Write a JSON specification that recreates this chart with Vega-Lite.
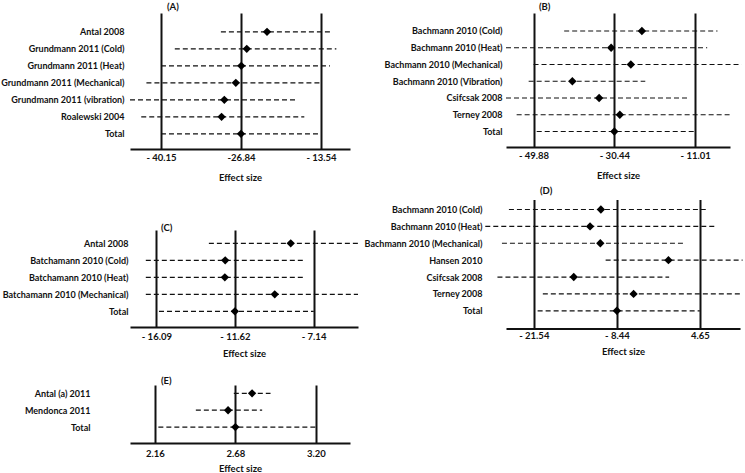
{
  "$schema": "https://vega.github.io/schema/vega-lite/v6.json",
  "padding": {"left": 0, "top": 1, "right": 0, "bottom": 0},
  "background": "white",
  "spacing": 3,
  "hconcat": [
    {
      "spacing": 17,
      "vconcat": [
        {
          "width": 220, "height": 136,
          "title": {"text": "(A)", "dx": 37, "offset": 2},
          "data": {"values": [
            {"study": "Antal 2008", "lo": -30.18, "hi": -12.05, "est": -22.51},
            {"study": "Grundmann 2011 (Cold)", "lo": -37.85, "hi": -10.98, "est": -25.88},
            {"study": "Grundmann 2011 (Heat)", "lo": -40.15, "hi": -12.05, "est": -26.79},
            {"study": "Grundmann 2011 (Mechanical)", "lo": -42.57, "hi": -13.54, "est": -27.70},
            {"study": "Grundmann 2011 (vibration)", "lo": -45.3, "hi": -17.66, "est": -29.61},
            {"study": "Roalewski 2004", "lo": -43.43, "hi": -16.31, "est": -30.07},
            {"study": "Total", "lo": -40.15, "hi": -13.54, "est": -26.84}
          ]},
          "encoding": {"y": {"field": "study", "type": "nominal", "sort": null, "scale": {"type": "point", "padding": 1.104, "align": 0.555}, "axis": {"labelPadding": 6}}},
          "layer": [
            {"mark": {"type": "rule", "strokeDash": [5, 3], "strokeWidth": 1.2, "color": "#111"},
             "encoding": {
               "x": {"field": "lo", "type": "quantitative", "scale": {"domain": [-45.3, -8.71], "zero": false, "nice": false}, "axis": {"values": [-40.15, -26.84, -13.54], "title": "Effect size", "labelExpr": "datum.value === -26.84 ? '-26.84' : '- ' + format(abs(datum.value), '.2f')", "labelPadding": 3, "titlePadding": 11}},
               "x2": {"field": "hi"}}},
            {"mark": {"type": "point", "shape": "diamond", "filled": true, "size": 70, "color": "#000", "opacity": 1},
             "encoding": {"x": {"field": "est", "type": "quantitative", "scale": {"domain": [-45.3, -8.71], "zero": false, "nice": false}, "axis": {"values": [-40.15, -26.84, -13.54], "title": "Effect size", "labelExpr": "datum.value === -26.84 ? '-26.84' : '- ' + format(abs(datum.value), '.2f')", "labelPadding": 3, "titlePadding": 11}}}}
          ]
        },
        {
          "width": 228, "height": 97,
          "title": {"text": " ", "subtitle": "(C)", "fontSize": 10, "subtitlePadding": 13.5, "dx": 31, "offset": -2},
          "data": {"values": [
            {"study": "Antal 2008", "lo": -13.10, "hi": -4.52, "est": -8.44},
            {"study": "Batchamann 2010 (Cold)", "lo": -16.69, "hi": -7.68, "est": -12.17},
            {"study": "Batchamann 2010 (Heat)", "lo": -16.69, "hi": -7.68, "est": -12.19},
            {"study": "Batchamann 2010 (Mechanical)", "lo": -16.69, "hi": -4.61, "est": -9.35},
            {"study": "Total", "lo": -15.94, "hi": -7.13, "est": -11.62}
          ]},
          "encoding": {"y": {"field": "study", "type": "nominal", "sort": null, "scale": {"type": "point", "padding": 0.853, "align": 0.459}, "axis": {"labelPadding": 2}}},
          "layer": [
            {"mark": {"type": "rule", "strokeDash": [5, 3], "strokeWidth": 1.2, "color": "#111"},
             "encoding": {
               "x": {"field": "lo", "type": "quantitative", "scale": {"domain": [-17.59, -4.61], "zero": false, "nice": false}, "axis": {"values": [-16.09, -11.62, -7.14], "title": "Effect size", "labelExpr": "'- ' + format(abs(datum.value), '.2f')", "labelPadding": 4, "titlePadding": 8}},
               "x2": {"field": "hi"}}},
            {"mark": {"type": "point", "shape": "diamond", "filled": true, "size": 70, "color": "#000", "opacity": 1},
             "encoding": {"x": {"field": "est", "type": "quantitative", "scale": {"domain": [-17.59, -4.61], "zero": false, "nice": false}, "axis": {"values": [-16.09, -11.62, -7.14], "title": "Effect size", "labelExpr": "'- ' + format(abs(datum.value), '.2f')", "labelPadding": 4, "titlePadding": 8}}}}
          ]
        },
        {
          "width": 220, "height": 58,
          "title": {"text": "(E)", "dx": 31, "offset": 0},
          "data": {"values": [
            {"study": "Antal (a) 2011", "lo": 2.67, "hi": 2.907, "est": 2.788},
            {"study": "Mendonca 2011", "lo": 2.425, "hi": 2.853, "est": 2.633},
            {"study": "Total", "lo": 2.183, "hi": 3.2, "est": 2.68}
          ]},
          "encoding": {"y": {"field": "study", "type": "nominal", "sort": null, "scale": {"type": "point", "padding": 0.718, "align": 0.344}, "axis": {"labelPadding": 40}}},
          "layer": [
            {"mark": {"type": "rule", "strokeDash": [5, 3], "strokeWidth": 1.2, "color": "#111"},
             "encoding": {
               "x": {"field": "lo", "type": "quantitative", "scale": {"domain": [2.0, 3.42], "zero": false, "nice": false}, "axis": {"values": [2.16, 2.68, 3.2], "title": "Effect size", "labelExpr": "format(datum.value, '.2f')", "labelPadding": 5, "titlePadding": 6}},
               "x2": {"field": "hi"}}},
            {"mark": {"type": "point", "shape": "diamond", "filled": true, "size": 70, "color": "#000", "opacity": 1},
             "encoding": {"x": {"field": "est", "type": "quantitative", "scale": {"domain": [2.0, 3.42], "zero": false, "nice": false}, "axis": {"values": [2.16, 2.68, 3.2], "title": "Effect size", "labelExpr": "format(datum.value, '.2f')", "labelPadding": 5, "titlePadding": 6}}}}
          ]
        }
      ]
    },
    {
      "spacing": 5.5,
      "vconcat": [
        {
          "width": 224, "height": 134,
          "title": {"text": "(B)", "dx": 33, "offset": 2},
          "data": {"values": [
            {"study": "Bachmann 2010 (Cold)", "lo": -42.51, "hi": -5.63, "est": -23.81},
            {"study": "Bachmann 2010 (Heat)", "lo": -56.5, "hi": -8.11, "est": -31.21},
            {"study": "Bachmann 2010 (Mechanical)", "lo": -49.88, "hi": 0.16, "est": -26.47},
            {"study": "Bachmann 2010 (Vibration)", "lo": -51.05, "hi": -23.0, "est": -40.54},
            {"study": "Csifcsak 2008", "lo": -56.5, "hi": -12.65, "est": -34.10},
            {"study": "Terney 2008", "lo": -53.94, "hi": -2.72, "est": -29.12},
            {"study": "Total", "lo": -49.11, "hi": -11.01, "est": -30.44}
          ]},
          "encoding": {"y": {"field": "study", "type": "nominal", "sort": null, "scale": {"type": "point", "padding": 1.073, "align": 0.537}, "axis": {"labelPadding": 4}}},
          "layer": [
            {"mark": {"type": "rule", "strokeDash": [5, 3], "strokeWidth": 1.2, "color": "#111"},
             "encoding": {
               "x": {"field": "lo", "type": "quantitative", "scale": {"domain": [-56.5, -2.62], "zero": false, "nice": false}, "axis": {"values": [-49.88, -30.44, -11.01], "title": "Effect size", "labelExpr": "'- ' + format(abs(datum.value), '.2f')", "labelPadding": 3, "titlePadding": 11}},
               "x2": {"field": "hi"}}},
            {"mark": {"type": "point", "shape": "diamond", "filled": true, "size": 70, "color": "#000", "opacity": 1},
             "encoding": {"x": {"field": "est", "type": "quantitative", "scale": {"domain": [-56.5, -2.62], "zero": false, "nice": false}, "axis": {"values": [-49.88, -30.44, -11.01], "title": "Effect size", "labelExpr": "'- ' + format(abs(datum.value), '.2f')", "labelPadding": 3, "titlePadding": 11}}}}
          ]
        },
        {
          "width": 234, "height": 129,
          "title": {"text": "(D)", "dx": 34, "offset": 4},
          "data": {"values": [
            {"study": "Bachmann 2010 (Cold)", "lo": -25.47, "hi": 5.59, "est": -10.96},
            {"study": "Bachmann 2010 (Heat)", "lo": -29.2, "hi": 6.99, "est": -12.67},
            {"study": "Bachmann 2010 (Mechanical)", "lo": -26.57, "hi": 2.12, "est": -11.05},
            {"study": "Hansen 2010", "lo": -10.21, "hi": 11.4, "est": -0.30},
            {"study": "Csifcsak 2008", "lo": -27.28, "hi": -0.19, "est": -15.24},
            {"study": "Terney 2008", "lo": -20.12, "hi": 11.4, "est": -5.80},
            {"study": "Total", "lo": -20.94, "hi": 4.65, "est": -8.44}
          ]},
          "encoding": {"y": {"field": "study", "type": "nominal", "sort": null, "scale": {"type": "point", "padding": 0.82, "align": 0.361}, "axis": {"labelPadding": 24}}},
          "layer": [
            {"mark": {"type": "rule", "strokeDash": [5, 3], "strokeWidth": 1.2, "color": "#111"},
             "encoding": {
               "x": {"field": "lo", "type": "quantitative", "scale": {"domain": [-25.93, 10.99], "zero": false, "nice": false}, "axis": {"values": [-21.54, -8.44, 4.65], "title": "Effect size", "labelExpr": "datum.value < 0 ? '- ' + format(abs(datum.value), '.2f') : format(datum.value, '.2f')", "labelPadding": 2, "titlePadding": 6}},
               "x2": {"field": "hi"}}},
            {"mark": {"type": "point", "shape": "diamond", "filled": true, "size": 70, "color": "#000", "opacity": 1},
             "encoding": {"x": {"field": "est", "type": "quantitative", "scale": {"domain": [-25.93, 10.99], "zero": false, "nice": false}, "axis": {"values": [-21.54, -8.44, 4.65], "title": "Effect size", "labelExpr": "datum.value < 0 ? '- ' + format(abs(datum.value), '.2f') : format(datum.value, '.2f')", "labelPadding": 2, "titlePadding": 6}}}}
          ]
        }
      ]
    }
  ],
  "config": {
    "view": {"stroke": null},
    "font": "Lato",
    "axis": {"labelFont": "Lato", "labelFontWeight": "bold", "labelColor": "#111", "labelFontSize": 9.5, "titleFont": "Lato", "titleFontWeight": "bold", "titleFontSize": 9.5, "titleColor": "#111"},
    "axisX": {"ticks": false, "domainColor": "#111", "domainWidth": 2, "grid": true, "gridColor": "#111", "gridWidth": 2, "gridOpacity": 1, "labelFlush": false, "labelOverlap": false},
    "axisY": {"domain": false, "ticks": false, "grid": false, "title": null, "labelFontSize": 9},
    "title": {"anchor": "start", "frame": "group", "font": "Lato", "fontWeight": "bold", "fontSize": 9.5, "color": "#111", "subtitleFont": "Lato", "subtitleFontWeight": "bold", "subtitleFontSize": 9.5, "subtitleColor": "#111"}
  }
}
